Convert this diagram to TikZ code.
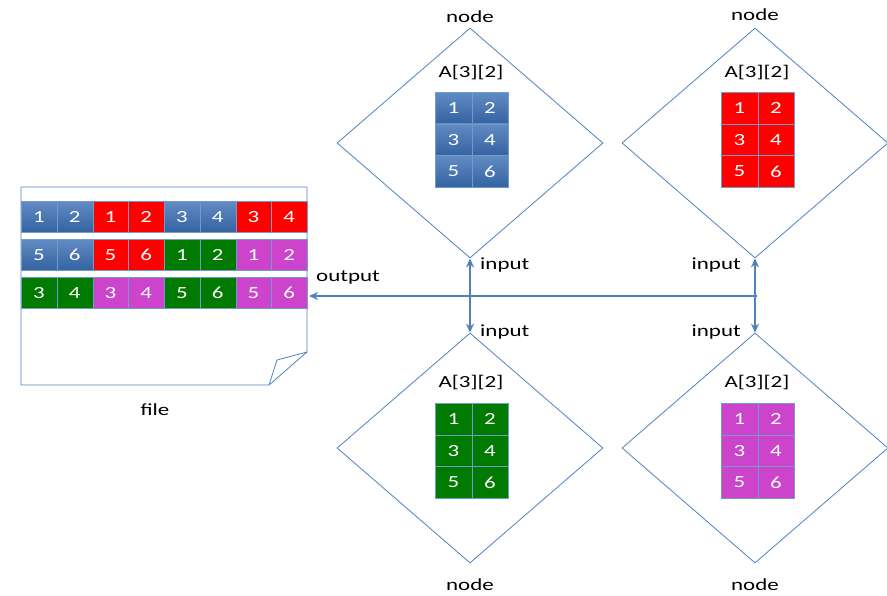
\documentclass[tikz,border=0pt]{standalone}
\usepackage{fontspec}
\setmainfont[FakeStretch=1.35]{Carlito}
\usetikzlibrary{shapes.geometric,arrows.meta}

\definecolor{lineblue}{RGB}{79,129,189}
\definecolor{cellblue}{RGB}{58,110,180}
\definecolor{cellred}{RGB}{255,0,0}
\definecolor{cellgreen}{RGB}{0,122,0}
\definecolor{cellmag}{RGB}{204,68,204}

\tikzset{
  lbl/.style={font=\fontsize{17}{20}\selectfont, inner sep=1pt},
  cell/.style={draw=lineblue!80!white, very thin, inner sep=0pt, text=white,
    font=\fontsize{17}{20}\selectfont, anchor=north west},
  bluecell/.style={top color=cellblue!80!white, bottom color=cellblue!90!black},
  redcell/.style={fill=cellred},
  greencell/.style={fill=cellgreen},
  magcell/.style={fill=cellmag},
  proc/.style={diamond, draw=lineblue, thick, minimum width=266pt, minimum height=230pt, inner sep=0pt},
  link/.style={lineblue, line width=1.6pt},
}

% one 3x2 block: name, left, top, cell style
\newcommand{\matgrid}[4]{%
  \foreach \r in {0,1,2}
    \foreach \c in {0,1} {
      \pgfmathtruncatemacro\v{2*\r+\c+1}
      \node[cell, #4, minimum width=36.5pt, minimum height=31.7pt] (#1-\v) at (#2+36.5*\c, #3+31.7*\r) {\v};
    }%
}

\begin{document}
\begin{tikzpicture}[x=1pt, y=-1pt]
\useasboundingbox (0,0) rectangle (887,595);

% the four nodes
\node[proc] (d1) at (470,143) {};
\node[proc] (d2) at (755,143) {};
\node[proc] (d3) at (470,448) {};
\node[proc] (d4) at (755,448) {};

\node[lbl] (n1) at (470,17) {node};
\node[lbl] (n2) at (755,15) {node};
\node[lbl] (n3) at (470,585) {node};
\node[lbl] (n4) at (755,585) {node};

\node[lbl] (a1) at (471,73) {A[3][2]};
\node[lbl] (a2) at (757,73) {A[3][2]};
\node[lbl] (a3) at (471,383) {A[3][2]};
\node[lbl] (a4) at (757,383) {A[3][2]};

\matgrid{g1}{435}{92}{bluecell}
\matgrid{g2}{721}{92}{redcell}
\matgrid{g3}{435}{403}{greencell}
\matgrid{g4}{721}{403}{magcell}

% the file
\draw[lineblue, thick] (21,187) -- (307,187) -- (307,352) -- (269,385) -- (21,385) -- cycle;
\draw[lineblue, thick] (307,352) -- (277,360) -- (269,385);
\foreach \c/\s/\n in {0/bluecell/1,1/bluecell/2,2/redcell/1,3/redcell/2,4/bluecell/3,5/bluecell/4,6/redcell/3,7/redcell/4}
  \node[cell, \s, minimum width=35.75pt, minimum height=31pt] (fa\c) at (21+35.75*\c,201) {\n};
\foreach \c/\s/\n in {0/bluecell/5,1/bluecell/6,2/redcell/5,3/redcell/6,4/greencell/1,5/greencell/2,6/magcell/1,7/magcell/2}
  \node[cell, \s, minimum width=35.75pt, minimum height=31pt] (fb\c) at (21+35.75*\c,239) {\n};
\foreach \c/\s/\n in {0/greencell/3,1/greencell/4,2/magcell/3,3/magcell/4,4/greencell/5,5/greencell/6,6/magcell/5,7/magcell/6}
  \node[cell, \s, minimum width=35.75pt, minimum height=31pt] (fc\c) at (21+35.75*\c,277) {\n};
\node[lbl] (file) at (155,410) {file};

% connections
\coordinate (bus) at (757,296);
\coordinate (fileedge) at (309,296);
\draw[link, -{Stealth[length=9pt,width=8pt]}] (bus) -- (fileedge);
\draw[link, {Stealth[length=9pt,width=8pt]}-{Stealth[length=9pt,width=8pt]}] (d1.south) -- (d3.north);
\draw[link, {Stealth[length=9pt,width=8pt]}-{Stealth[length=9pt,width=8pt]}] (d2.south) -- (d4.north);
\node[lbl, anchor=west] (out) at (315,277) {output};
\node[lbl, anchor=west] (in1) at (479,265) {input};
\node[lbl, anchor=west] (in3) at (479,332) {input};
\node[lbl, anchor=east] (in2) at (742,265) {input};
\node[lbl, anchor=east] (in4) at (742,332) {input};

\end{tikzpicture}
\end{document}
